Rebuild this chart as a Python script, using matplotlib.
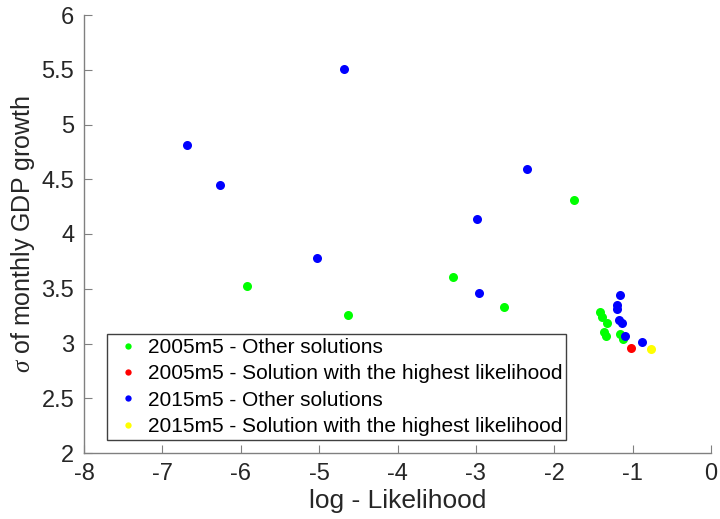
import matplotlib
matplotlib.use("Agg")
import matplotlib.pyplot as plt

plt.rcParams['font.family'] = ['Liberation Sans', 'DejaVu Sans']
plt.rcParams['axes.unicode_minus'] = False
plt.rcParams['mathtext.fontset'] = 'custom'
plt.rcParams['mathtext.it'] = 'Liberation Serif:italic'

g_x = [-1.75, -5.92, -4.63, -3.29, -2.64, -1.42, -1.39, -1.33, -1.37, -1.34, -1.155, -1.12]
g_y = [4.31, 3.525, 3.26, 3.607, 3.333, 3.285, 3.245, 3.185, 3.102, 3.071, 3.087, 3.041]
r_x = [-1.02]
r_y = [2.962]
b_x = [-6.68, -6.265, -4.684, -2.349, -2.987, -5.028, -2.962, -1.157, -1.193, -1.193, -1.175, -1.133, -1.10, -0.879]
b_y = [4.813, 4.447, 5.507, 4.594, 4.137, 3.781, 3.461, 3.443, 3.354, 3.312, 3.215, 3.185, 3.068, 3.014]
y_x = [-0.768]
y_y = [2.950]
labels = ["2005m5 - Other solutions",
          "2005m5 - Solution with the highest likelihood",
          "2015m5 - Other solutions",
          "2015m5 - Solution with the highest likelihood"]

fig = plt.figure(figsize=(7.2, 5.19), dpi=100)
ax = fig.add_axes([84/720, 1-453/519, 627/720, 438/519])
ms = 6.5
ax.plot(g_x, g_y, 'o', color='#00ff00', ms=ms, mec='none', label=labels[0])
ax.plot(r_x, r_y, 'o', color='#ff0000', ms=ms, mec='none', label=labels[1])
ax.plot(b_x, b_y, 'o', color='#0000ff', ms=ms, mec='none', label=labels[2])
ax.plot(y_x, y_y, 'o', color='#ffff00', ms=ms, mec='none', label=labels[3])

ax.set_xlim(-8, 0)
ax.set_ylim(2, 6)
ax.set_xticks(range(-8, 1))
ax.set_yticks([2, 2.5, 3, 3.5, 4, 4.5, 5, 5.5, 6])
ax.set_yticklabels(['2', '2.5', '3', '3.5', '4', '4.5', '5', '5.5', '6'])
for s in ['top', 'right']:
    ax.spines[s].set_visible(False)
for s in ['left', 'bottom']:
    ax.spines[s].set_color('#808080')
    ax.spines[s].set_linewidth(1.0)
ax.tick_params(direction='in', length=6, color='#808080', labelsize=17, labelcolor='#262626', pad=7)
ax.set_xlabel('log - Likelihood', fontsize=19, color='#262626', labelpad=3)
ax.set_ylabel(r'$\sigma$ of monthly GDP growth', fontsize=18, color='#262626', labelpad=3)

leg = ax.legend(loc='lower left', bbox_to_anchor=(23/627, 13/438), fontsize=15,
                frameon=True, fancybox=False, edgecolor='#404040', framealpha=1,
                handlelength=1.6, handletextpad=0.15, borderpad=0.2, labelspacing=0.35,
                borderaxespad=0, markerscale=0.7)
leg.get_frame().set_linewidth(1.0)

fig.savefig('out.png', dpi=100)
